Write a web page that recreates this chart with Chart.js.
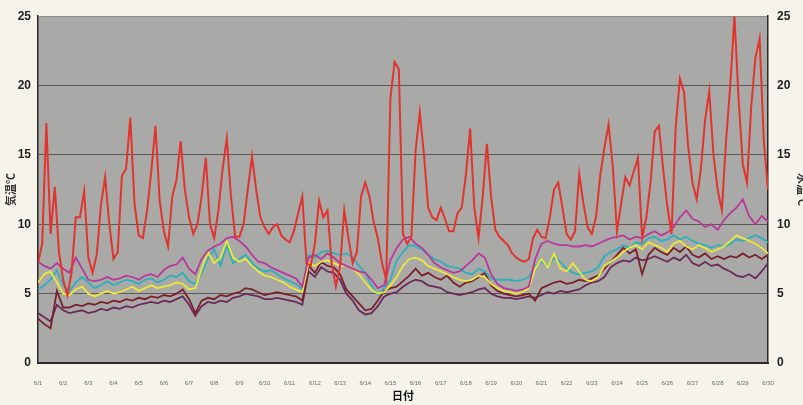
<!DOCTYPE html>
<html>
<head>
<meta charset="utf-8">
<script src="https://cdn.jsdelivr.net/npm/chart.js@4/dist/chart.umd.min.js"></script>
<style>
  html, body { margin: 0; padding: 0; background: #f6f4ea; }
  #wrap { width: 803px; height: 405px; }
</style>
</head>
<body>
<div id="wrap"><canvas id="chart" width="803" height="405"></canvas></div>
<script>
// Date labels along the bottom axis
const days = ['6/1','6/2','6/3','6/4','6/5','6/6','6/7','6/8','6/9','6/10',
  '6/11','6/12','6/13','6/14','6/15','6/16','6/17','6/18','6/19','6/20',
  '6/21','6/22','6/23','6/24','6/25','6/26','6/27','6/28','6/29','6/30'];
const tempTicks = [0, 5, 10, 15, 20, 25];

// Air temperature, 6 readings per day (every 4 h)
const airPerDay = 6;
const airTemp = [
  7.2, 8.6, 17.3, 9.3, 12.7, 8.0,
  6.0, 4.9, 6.5, 10.5, 10.5, 12.4,
  7.6, 6.5, 7.8, 11.4, 13.4, 10.0,
  7.5, 8.0, 13.5, 14.0, 17.7, 11.5,
  9.2, 9.0, 11.0, 13.8, 17.1, 11.7,
  9.5, 8.4, 12.0, 13.2, 16.0, 12.5,
  10.5, 9.3, 10.0, 12.0, 14.8, 10.0,
  9.0, 11.0, 14.0, 16.2, 12.0, 9.1,
  9.1, 10.0, 12.5, 14.9, 12.5, 10.5,
  9.8, 9.3, 9.8, 10.0, 9.2, 8.9,
  8.7, 9.5, 10.8, 12.0, 7.2, 7.0,
  8.6, 11.7, 10.5, 11.0, 7.2, 5.5,
  7.0, 11.0, 9.0, 7.2, 8.0, 12.0,
  13.0, 12.0, 10.2, 9.0, 7.2, 6.0,
  19.1, 21.7, 21.2, 9.3, 8.6, 9.1,
  15.3, 18.1, 15.0, 11.2, 10.5, 10.3,
  11.2, 10.4, 9.5, 9.5, 10.8, 11.2,
  13.6, 16.9, 11.2, 9.0, 12.0, 15.8,
  12.0, 9.6, 9.1, 8.8, 8.5, 7.9,
  7.6, 7.4, 7.3, 7.5, 9.0, 9.6,
  9.1, 9.0, 10.5, 12.5, 13.0, 11.2,
  9.3, 8.9, 9.5, 13.6, 11.5, 9.8,
  9.3, 10.5, 13.5, 15.5, 17.2, 14.2,
  9.5, 11.5, 13.4, 12.8, 13.8, 14.8,
  9.0, 10.5, 13.0, 16.7, 17.1, 14.0,
  11.3, 9.3, 17.0, 20.5, 19.5, 15.5,
  13.0, 11.8, 14.0, 17.5, 19.6, 15.0,
  12.5, 11.0, 16.0, 20.0, 25.0, 19.0,
  14.3, 13.0, 18.5, 22.0, 23.4, 16.0,
  12.5
];

// Water temperatures at five points, 4 readings per day (every 6 h)
const waterPerDay = 4;
const waterMagenta = [
  7.3, 7.0, 6.8, 7.2,  6.8, 6.5, 7.6, 6.8,  6.0, 5.9, 6.0, 6.2,  6.0, 6.1, 6.3, 6.2,
  6.0, 6.3, 6.4, 6.2,  6.7, 7.0, 7.1, 7.6,  6.8, 6.4, 7.5, 8.1,  8.4, 8.6, 9.0, 9.1,
  8.8, 8.4, 7.8, 7.3,  7.2, 6.9, 6.7, 6.5,  6.3, 6.1, 5.5, 7.6,  7.8, 7.5, 7.9, 7.6,
  7.2, 7.0, 6.8, 6.6,  6.5, 6.0, 5.4, 5.6,  7.4, 8.3, 8.9, 9.1,  8.6, 8.3, 7.8, 7.2,
  6.9, 6.7, 6.5, 6.6,  7.0, 7.4, 7.9, 7.6,  6.4, 5.7, 5.4, 5.3,  5.2, 5.3, 5.5, 7.5,
  8.6, 8.8, 8.6, 8.5,  8.5, 8.4, 8.4, 8.5,  8.4, 8.6, 8.8, 9.0,  9.1, 9.2, 8.9, 9.1,
  9.0, 9.3, 9.5, 9.2,  9.4, 9.8, 10.5, 11.0,  10.4, 10.2, 9.8, 10.0,  9.6, 10.3, 10.8, 11.2,
  11.8, 10.6, 10.0, 10.6,  10.2
];
const waterCyan = [
  5.3, 5.6, 6.0, 6.7,  5.6, 5.2, 5.8, 6.2,  5.8, 5.4, 5.6, 5.9,  5.6, 5.8, 6.0, 5.9,
  5.7, 6.0, 6.1, 5.8,  6.0, 6.3, 6.2, 6.5,  5.9, 5.7, 6.5, 7.5,  8.2, 7.0, 8.5, 7.2,
  7.5, 7.8, 7.2, 6.8,  6.6, 6.7, 6.4, 6.1,  5.9, 5.7, 5.3, 7.8,  7.6, 8.0, 8.1, 7.9,
  7.8, 7.9, 7.6, 7.0,  6.5, 5.6, 4.9, 5.4,  6.0, 7.4, 8.0, 8.5,  8.4, 8.2, 7.8, 7.5,
  7.3, 7.0, 6.9, 6.8,  6.5, 6.4, 6.8, 6.6,  6.1, 6.0, 6.0, 6.0,  5.9, 6.0, 6.2, 7.0,
  7.3, 7.0, 7.6, 7.3,  6.8, 6.5, 6.4, 6.5,  6.6, 6.9, 7.7, 8.0,  8.2, 8.5, 8.3, 8.7,
  8.6, 9.0, 9.1, 8.8,  8.9, 9.2, 8.9, 9.1,  8.8, 8.6, 8.5, 8.3,  8.5, 8.4, 8.6, 8.9,
  8.8, 9.0, 9.2, 9.0,  8.7
];
const waterYellow = [
  5.8, 6.4, 6.6, 5.8,  5.0, 4.9, 5.3, 5.5,  5.0, 4.8, 5.0, 5.2,  5.0, 5.1, 5.3, 5.5,
  5.2, 5.4, 5.6, 5.4,  5.5, 5.6, 5.8, 5.7,  5.3, 5.4, 6.8, 8.0,  7.2, 7.6, 8.8, 7.6,
  7.3, 7.5, 7.0, 6.6,  6.3, 6.2, 6.0, 5.8,  5.5, 5.3, 5.1, 7.2,  7.0, 7.3, 7.4, 7.2,
  7.0, 7.0, 6.8, 6.4,  5.8, 5.3, 5.0, 5.1,  5.6, 6.2, 7.0, 7.5,  7.6, 7.4, 7.0, 6.8,
  6.6, 6.4, 6.2, 6.0,  5.9, 6.0, 6.3, 6.2,  5.7, 5.4, 5.2, 5.1,  5.0, 5.1, 5.4, 6.8,
  7.5, 6.9, 7.9, 6.8,  6.6, 7.2, 6.6, 6.0,  5.9, 6.2, 7.0, 7.3,  7.6, 8.0, 8.3, 8.5,
  8.2, 8.7, 8.5, 8.3,  8.0, 8.6, 8.8, 8.4,  8.2, 8.5, 8.3, 8.0,  8.2, 8.4, 8.8, 9.2,
  9.0, 8.8, 8.6, 8.3,  7.9
];
const waterMaroon = [
  3.2, 2.8, 2.5, 5.2,  4.0, 4.0, 4.2, 4.1,  4.3, 4.2, 4.4, 4.3,  4.5, 4.4, 4.6, 4.5,
  4.7, 4.6, 4.8, 4.7,  4.9, 4.8, 5.0, 5.3,  4.6, 3.6, 4.5, 4.7,  4.6, 4.9, 4.8, 5.0,
  5.1, 5.4, 5.3, 5.1,  4.9, 5.0, 5.1, 5.0,  4.9, 4.8, 4.5, 7.0,  6.5, 7.3, 7.0, 6.9,
  6.4, 5.3, 4.8, 4.3,  3.8, 3.9, 4.5, 5.2,  5.4, 5.5, 5.9, 6.3,  6.8, 6.3, 6.5, 6.2,
  6.0, 6.3, 5.8, 5.5,  5.8, 5.9, 6.2, 6.5,  5.6, 5.2, 5.0, 4.9,  4.8, 4.9, 5.0, 4.5,
  5.4, 5.6, 5.8, 5.9,  5.7, 5.8, 6.0, 5.9,  6.1, 6.3, 6.8, 7.3,  7.8, 8.3, 7.9, 8.2,
  6.4, 7.8, 8.3, 8.0,  7.8, 8.3, 8.0, 8.4,  7.8, 7.6, 7.9, 7.5,  7.7, 7.5, 7.7, 7.6,
  7.9, 7.6, 7.8, 7.5,  7.8
];
const waterPurple = [
  3.6, 3.3, 3.0, 4.2,  3.8, 3.6, 3.7, 3.8,  3.6, 3.7, 3.9, 3.8,  4.0, 3.9, 4.1, 4.0,
  4.2, 4.3, 4.4, 4.3,  4.5, 4.4, 4.6, 4.8,  4.2, 3.4, 4.1, 4.4,  4.3, 4.5, 4.4, 4.7,
  4.8, 5.0, 4.9, 4.8,  4.6, 4.6, 4.7, 4.6,  4.5, 4.4, 4.2, 6.6,  6.2, 6.9, 6.6, 6.5,
  6.0, 5.0, 4.5, 3.8,  3.5, 3.6, 4.1, 4.8,  5.0, 5.1, 5.5, 5.8,  6.0, 5.9, 5.6, 5.5,
  5.4, 5.1, 5.0, 4.9,  5.0, 5.1, 5.3, 5.4,  5.0, 4.8, 4.7, 4.7,  4.6, 4.7, 4.8, 4.7,
  4.9, 5.1, 5.0, 5.2,  5.1, 5.2, 5.3, 5.6,  5.8, 5.9, 6.2, 6.9,  7.2, 7.4, 7.3, 7.6,
  7.4, 7.5, 7.7, 7.5,  7.3, 7.6, 7.4, 7.8,  7.2, 7.0, 7.3, 7.0,  7.1, 6.8, 6.6, 6.3,
  6.2, 6.4, 6.1, 6.6,  7.2
];

// Turn a reading list into points on a day-based x scale
const toPoints = (vals, perDay) => vals.map((v, i) => ({ x: i / perDay, y: v }));

const line = (label, vals, perDay, color, width) => ({
  label, data: toPoints(vals, perDay), borderColor: color, backgroundColor: color,
  borderWidth: width, pointRadius: 0, tension: 0, fill: false, yAxisID: 'y'
});

// Grey plotting field behind the grid
const plotField = {
  id: 'plotField',
  beforeDraw(chart) {
    const { ctx, chartArea: a } = chart;
    ctx.save();
    ctx.fillStyle = '#a9a9a7';
    ctx.fillRect(a.left, a.top, a.right - a.left, a.bottom - a.top);
    ctx.restore();
  }
};

const tickFont = { family: "'Liberation Sans', Arial, sans-serif", size: 12, weight: 'bold' };
const titleFont = { family: "'Noto Sans CJK JP', sans-serif", size: 11, weight: 'bold' };

new Chart(document.getElementById('chart'), {
  type: 'line',
  data: {
    datasets: [
      line('気温', airTemp, airPerDay, '#e2342f', 2),
      line('水温1', waterMagenta, waterPerDay, '#b8399a', 1.8),
      line('水温2', waterYellow, waterPerDay, '#ece83a', 1.8),
      line('水温3', waterCyan, waterPerDay, '#2eb0bc', 1.8),
      line('水温4', waterMaroon, waterPerDay, '#7c1f2c', 1.8),
      line('水温5', waterPurple, waterPerDay, '#6b2a5e', 1.8)
    ]
  },
  options: {
    responsive: false,
    animation: false,
    devicePixelRatio: 1,
    layout: { padding: { top: 13, left: 0, right: 0, bottom: 0 } },
    plugins: { legend: { display: false }, tooltip: { enabled: false } },
    scales: {
      x: {
        type: 'linear', min: 0, max: days.length - 1,
        grid: { display: false },
        border: { display: true, color: '#2a2a2a', width: 2 },
        ticks: {
          stepSize: 1, autoSkip: false, maxRotation: 0, padding: 9,
          color: '#6a6a6a', font: { family: "'Liberation Sans', Arial, sans-serif", size: 6 },
          callback: v => days[v]
        },
        title: { display: true, text: '日付', color: '#111', font: titleFont, padding: { top: 0, bottom: 3 } },
        afterFit: s => { s.height = 42; }
      },
      y: {
        position: 'left', min: tempTicks[0], max: tempTicks[tempTicks.length - 1],
        afterBuildTicks: s => { s.ticks = tempTicks.map(v => ({ value: v })); },
        grid: {
          drawTicks: false, lineWidth: 1,
          color: c => c.tick.value === 0 ? 'rgba(0,0,0,0)' : (c.tick.value === 25 ? '#8c8c8a' : '#5a5a58')
        },
        border: { display: true, color: '#2a2a2a', width: 1.5 },
        ticks: { padding: 7, color: '#222', font: tickFont },
        title: { display: true, text: '気温℃', color: '#333', font: titleFont, padding: { top: 4, bottom: 0 } },
        afterFit: s => { s.width = 38; }
      },
      y1: {
        position: 'right', min: tempTicks[0], max: tempTicks[tempTicks.length - 1],
        afterBuildTicks: s => { s.ticks = tempTicks.map(v => ({ value: v })); },
        grid: { display: false, drawTicks: false },
        border: { display: true, color: '#2a2a2a', width: 1.5 },
        ticks: { padding: 9, color: '#222', font: tickFont },
        title: { display: true, text: '水温℃', color: '#333', font: titleFont, padding: { top: -6, bottom: 0 } },
        afterFit: s => { s.width = 35; }
      }
    }
  },
  plugins: [plotField]
});
</script>
</body>
</html>
